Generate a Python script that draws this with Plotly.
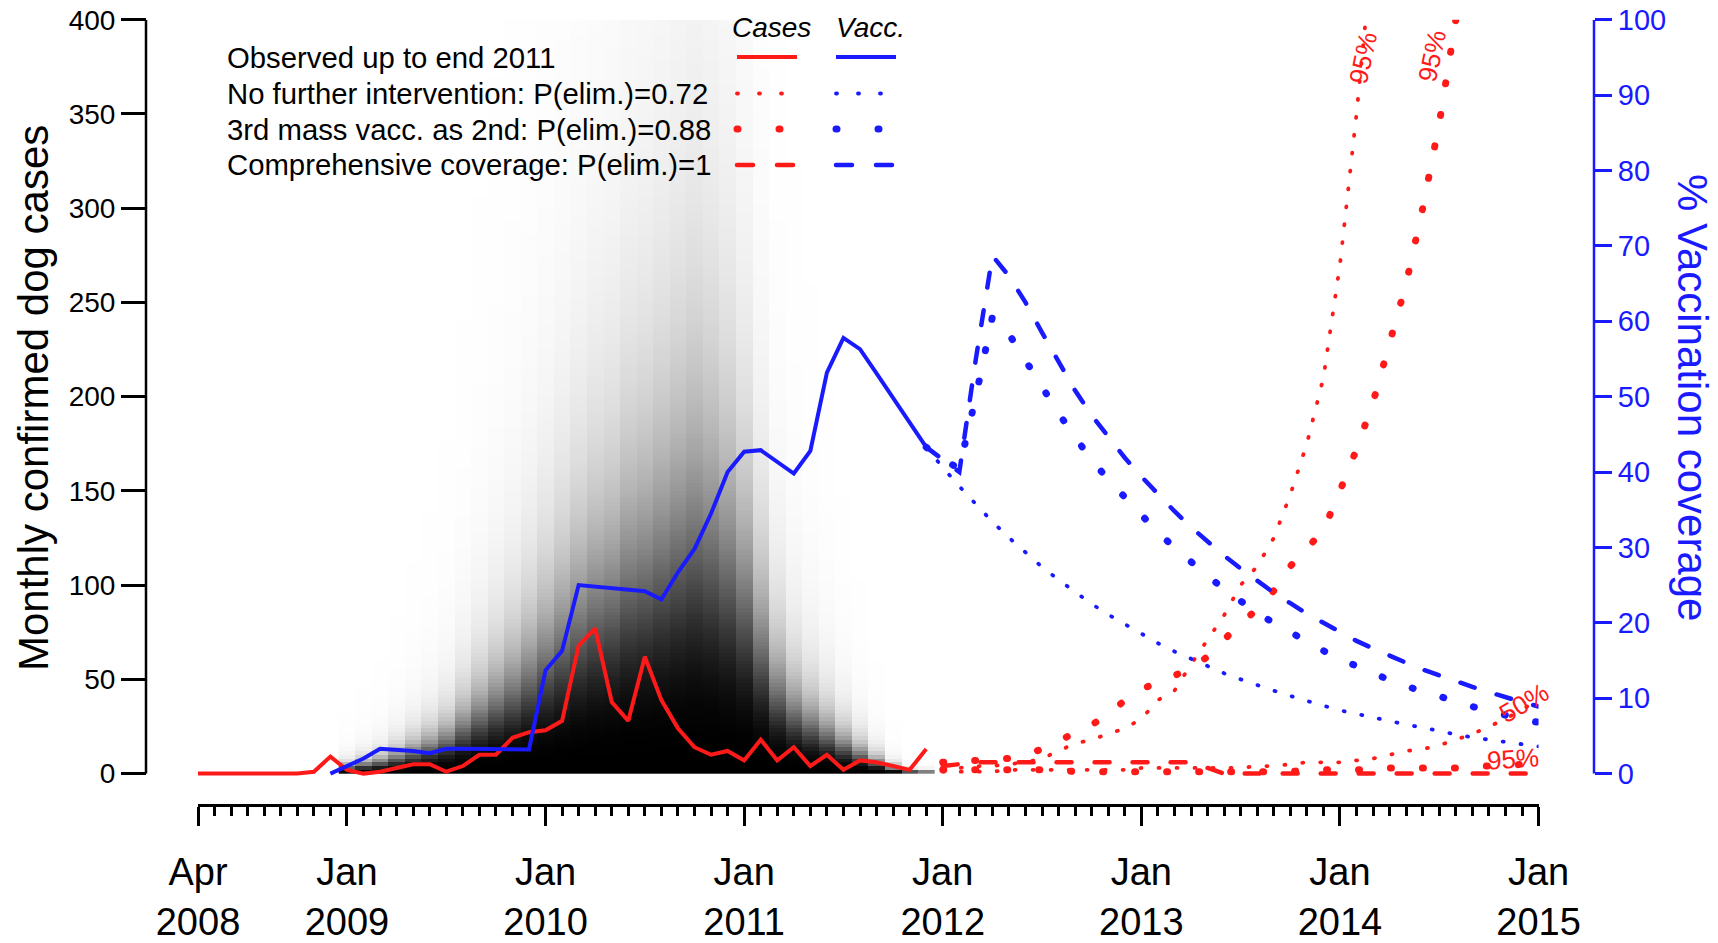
import numpy as np
import plotly.graph_objects as go

W, H = 1718, 943
FONT = "Liberation Sans, Arial, Helvetica, sans-serif"
RED = "#ff1a1a"
BLUE = "#1a1aff"

# ---------------- data (month index: 0 = Apr 2008 ... 81 = Jan 2015) ----------------
tick_months = [0, 9, 21, 33, 45, 57, 69, 81]
tick_labels = ["Apr<br>2008", "Jan<br>2009", "Jan<br>2010", "Jan<br>2011",
               "Jan<br>2012", "Jan<br>2013", "Jan<br>2014", "Jan<br>2015"]

obs_case_months = list(range(0, 45))
obs_cases = [0, 0, 0, 0, 0, 0, 0, 1, 9, 2, 0, 1, 3, 5, 5, 1, 4, 10, 10, 19, 22, 23, 28,
             68, 77, 38, 28, 62, 39, 24, 14, 10, 12, 7, 18, 7, 14, 4, 10, 2, 7, 6, 4, 2, 13]

obs_vacc_months = list(range(8, 45))
obs_vacc = [0, 1, 2, 3.3, 3.2, 3.0, 2.7, 3.3, 3.3, 3.3, 3.2, 3.2, 3.2, 13.7, 16.3, 25.0,
            24.8, 24.6, 24.3, 24.2, 23.1, 26.7, 29.8, 34.5, 40.0, 42.7, 42.9, 41.3, 39.8,
            42.8, 53.2, 57.8, 56.3, 53.1, 49.8, 46.5, 43.3]

proj_vacc_months = list(range(44, 82))
vacc_no_further = [43.3, 40.6, 38.1, 35.7, 33.4, 31.3, 29.3, 27.4, 25.7, 24.1, 22.5, 21.1,
                   19.8, 18.5, 17.3, 16.2, 15.2, 14.2, 13.3, 12.5, 11.7, 11.0, 10.3, 9.6,
                   9.0, 8.4, 7.9, 7.4, 6.9, 6.5, 6.1, 5.6, 5.2, 4.8, 4.5, 4.2, 3.9, 3.6]
vacc_third_mass = [43.3, 41.6, 40.5, 50.0, 60.6, 58.3, 54.8, 51.1, 47.8, 44.6, 41.6, 39.0,
                   36.6, 34.2, 32.0, 30.0, 28.0, 26.2, 24.5, 22.9, 21.3, 20.0, 18.7, 17.4,
                   16.3, 15.2, 14.2, 13.3, 12.4, 11.6, 10.9, 10.1, 9.5, 8.9, 8.3, 7.7, 7.2, 6.8]
vacc_comprehensive = [43.3, 41.6, 40.0, 55.0, 68.7, 66.0, 62.5, 58.5, 54.5, 50.8, 47.5, 44.6,
                      41.9, 39.4, 37.0, 34.8, 32.7, 30.8, 28.9, 27.2, 25.6, 24.0, 22.6, 21.2,
                      20.0, 18.8, 17.6, 16.6, 15.6, 14.7, 13.8, 13.0, 12.2, 11.5, 10.8, 10.1,
                      9.5, 8.9]

proj_case_months = list(range(45, 82))
cases_no_further_95 = [3, 3, 4, 4, 5, 6, 8, 12, 16, 18, 21, 24, 29, 39, 44, 58, 71, 84, 100,
                       110, 125, 148, 175, 210, 270, 350, 440]
cases_third_mass_95 = [6, 7, 7, 8, 8, 10, 13, 17, 22, 26, 31, 39, 45, 48, 52, 56, 62, 71, 80,
                       87, 97, 110, 119, 129, 150, 172, 197, 228, 260, 300, 345, 400, 460]
cases_no_further_50 = [1, 1, 1, 1, 2, 2, 2, 2, 2, 2, 2, 2, 3, 3, 3, 3, 3, 3, 3, 4, 4, 5, 6, 6,
                       6, 7, 8, 10, 12, 13, 15, 18, 21, 25, 29, 34, 39]
cases_third_mass_50 = [2, 2, 2, 2, 2, 2, 2, 2, 1, 1, 1, 1, 1, 1, 1, 1, 1, 1, 1, 1, 1, 1, 2, 2,
                       2, 2, 2, 3, 3, 3, 3, 3, 4, 4, 4, 5, 5]
cases_comprehensive_95 = [4, 5, 6, 6, 6, 6, 6, 6, 6, 6, 6, 6, 6, 6, 6, 6, 3, 0, 0, 0, 0, 0, 0,
                          0, 0, 0, 0, 0, 0, 0, 0, 0, 0, 0, 0, 0, 0]

# simulated-case shading: per month, case count at which the grey is half-tone
shade_months = list(range(9, 45))
shade_median = [3.5, 5, 6.5, 9, 12, 15, 19, 26, 33, 40, 47, 55, 65, 75, 85, 94, 99, 110, 115,
                123, 131, 138, 131, 119, 100, 72, 47, 35, 28, 22, 16, 11, 6.5, 3, 1.3, 1]

# ---------------- geometry helpers ----------------
X0, PXM = 198.0, 16.55          # pixel of month 0, pixels per month
Y0, Y400 = 773.6, 19.7          # pixel of 0 cases and 400 cases
ppu = (Y0 - Y400) / 400.0


def px(x):
    return x / W


def py(y):
    return 1 - y / H


ydom = [py(Y0 + 4 * ppu), py(Y400)]

fig = go.Figure()

# shading heat map
yc = np.arange(1, 400, 2.0)
med = np.array(shade_median, dtype=float)
z = 1.0 / (1.0 + (yc[:, None] / med[None, :]) ** 2.8)
fig.add_trace(go.Heatmap(x=shade_months, y=yc, z=z, zmin=0, zmax=1,
                         colorscale=[[0, "#ffffff"], [1, "#000000"]], showscale=False,
                         hoverinfo="skip", xaxis="x", yaxis="y"))

# dash patterns (drawn with round caps, see post_script)
SMALL_DOT = "1px,17px"
BIG_DOT = "1px,31px"
DASH = "15px,23px"
W_SMALL, W_BIG, W_DASH = 3.8, 7, 4.5

# red case projections
fig.add_trace(go.Scatter(x=proj_case_months, y=cases_comprehensive_95, mode="lines",
                         line=dict(color=RED, width=W_DASH, dash=DASH), yaxis="y"))
fig.add_trace(go.Scatter(x=proj_case_months, y=cases_third_mass_50, mode="lines",
                         line=dict(color=RED, width=W_BIG, dash=BIG_DOT), yaxis="y"))
fig.add_trace(go.Scatter(x=proj_case_months, y=cases_no_further_50, mode="lines",
                         line=dict(color=RED, width=W_SMALL, dash=SMALL_DOT), yaxis="y"))
fig.add_trace(go.Scatter(x=proj_case_months[:len(cases_no_further_95)], y=cases_no_further_95,
                         mode="lines", line=dict(color=RED, width=W_SMALL, dash=SMALL_DOT),
                         yaxis="y"))
fig.add_trace(go.Scatter(x=proj_case_months[:len(cases_third_mass_95)], y=cases_third_mass_95,
                         mode="lines", line=dict(color=RED, width=W_BIG, dash=BIG_DOT),
                         yaxis="y"))

# observed
fig.add_trace(go.Scatter(x=obs_case_months, y=obs_cases, mode="lines",
                         line=dict(color=RED, width=4), yaxis="y"))
fig.add_trace(go.Scatter(x=obs_vacc_months, y=obs_vacc, mode="lines",
                         line=dict(color=BLUE, width=4), yaxis="y2"))

# vaccination projections
fig.add_trace(go.Scatter(x=proj_vacc_months, y=vacc_no_further, mode="lines",
                         line=dict(color=BLUE, width=W_SMALL, dash=SMALL_DOT), yaxis="y2"))
fig.add_trace(go.Scatter(x=proj_vacc_months, y=vacc_third_mass, mode="lines",
                         line=dict(color=BLUE, width=W_BIG, dash=BIG_DOT), yaxis="y2"))
fig.add_trace(go.Scatter(x=proj_vacc_months, y=vacc_comprehensive, mode="lines",
                         line=dict(color=BLUE, width=W_DASH, dash=DASH), yaxis="y2"))

# ---------------- axes ----------------
major = list(range(0, 82, 3))
major_txt = [tick_labels[tick_months.index(m)] if m in tick_months else "" for m in major]

fig.update_layout(
    width=W, height=H, margin=dict(l=0, r=0, t=0, b=0, autoexpand=False),
    paper_bgcolor="white", plot_bgcolor="white", showlegend=False,
    font=dict(family=FONT, color="black"),
    xaxis=dict(domain=[px(X0), px(X0 + 81 * PXM)], range=[0, 81], anchor="free",
               position=py(805), tickmode="array", tickvals=major, ticktext=major_txt,
               ticks="outside", ticklen=19, tickwidth=2.5, tickcolor="black",
               showline=True, linecolor="black", linewidth=2.5, showgrid=False,
               zeroline=False, tickfont=dict(size=38, color="black", family=FONT),
               ticklabelstandoff=14,
               minor=dict(tickmode="array", tickvals=list(range(82)), ticks="outside",
                          ticklen=9, tickwidth=2.5, tickcolor="black", showgrid=False)),
    yaxis=dict(domain=ydom, range=[-4, 400], anchor="free", position=px(146), side="left",
               tickmode="array", tickvals=list(range(0, 401, 50)), ticks="outside",
               ticklen=25, tickwidth=2.5, tickcolor="black", showline=False,
               showgrid=False, zeroline=False,
               tickfont=dict(size=28, color="black", family=FONT)),
    yaxis2=dict(domain=ydom, range=[-1, 100], anchor="free", position=px(1594),
                side="right", overlaying="y", tickmode="array",
                tickvals=list(range(0, 101, 10)), ticks="outside", ticklen=17,
                tickwidth=2.5, tickcolor=BLUE, showline=False, showgrid=False,
                zeroline=False, tickfont=dict(size=29, color=BLUE, family=FONT)),
)

shapes = [
    dict(type="line", xref="paper", yref="y", x0=px(146), x1=px(146), y0=0, y1=400,
         line=dict(color="black", width=2.5)),
    dict(type="line", xref="paper", yref="y2", x0=px(1594), x1=px(1594), y0=0, y1=100,
         line=dict(color=BLUE, width=2.5)),
]

# ---------------- legend (drawn) ----------------
rows = [57, 93.5, 129, 165]
row_text = ["Observed up to end 2011",
            "No further intervention: P(elim.)=0.72",
            "3rd mass vacc. as 2nd: P(elim.)=0.88",
            "Comprehensive coverage: P(elim.)=1"]
row_style = [(4, None), (W_SMALL, "1px,21px"), (W_BIG, "1px,41px"), (W_DASH, "16px,24px")]
annotations = []
for ry, txt, (lw, dsh) in zip(rows, row_text, row_style):
    annotations.append(dict(x=px(225), y=py(ry), xref="paper", yref="paper", text=txt,
                            showarrow=False, xanchor="left", yanchor="middle",
                            font=dict(size=29.3, color="black", family=FONT)))
    for col, x0, x1 in [(RED, 737, 797), (BLUE, 836, 896)]:
        ln = dict(color=col, width=lw)
        if dsh:
            ln["dash"] = dsh
        shapes.append(dict(type="line", xref="paper", yref="paper", x0=px(x0), x1=px(x1),
                           y0=py(ry), y1=py(ry), line=ln))

annotations += [
    dict(x=px(771), y=py(27), text="<i>Cases</i>"),
    dict(x=px(870), y=py(27), text="<i>Vacc.</i>"),
]
for a in annotations[-2:]:
    a.update(xref="paper", yref="paper", showarrow=False, xanchor="center",
             yanchor="middle", font=dict(size=28, color="black", family=FONT))

# axis titles
annotations.append(dict(x=px(33), y=py(398), xref="paper", yref="paper",
                        text="Monthly confirmed dog cases", textangle=-90, showarrow=False,
                        xanchor="center", yanchor="middle",
                        font=dict(size=42, color="black", family=FONT)))
annotations.append(dict(x=px(1693), y=py(397), xref="paper", yref="paper",
                        text="% Vaccination coverage", textangle=90, showarrow=False,
                        xanchor="center", yanchor="middle",
                        font=dict(size=42, color=BLUE, family=FONT)))

# quantile labels
for (xx, yy, ang, t) in [(1363, 58, -78, "95%"), (1432, 56, -78, "95%"),
                         (1524, 703, -30, "50%"), (1513, 759, -4, "95%")]:
    annotations.append(dict(x=px(xx), y=py(yy), xref="paper", yref="paper", text=t,
                            textangle=ang, showarrow=False, xanchor="center",
                            yanchor="middle", font=dict(size=26, color=RED, family=FONT)))

fig.update_layout(shapes=shapes, annotations=annotations)

# give dotted / dashed strokes round caps, as in the original graphics device
post = """
var gd = document.getElementById('{plot_id}');
function roundCaps(){
  gd.querySelectorAll('path').forEach(function(p){
    var d = p.style.strokeDasharray;
    if (d && d !== 'none') { p.style.strokeLinecap = 'round'; }
  });
}
roundCaps();
gd.on('plotly_afterplot', roundCaps);
"""
fig.write_html("out.html", post_script=post)
